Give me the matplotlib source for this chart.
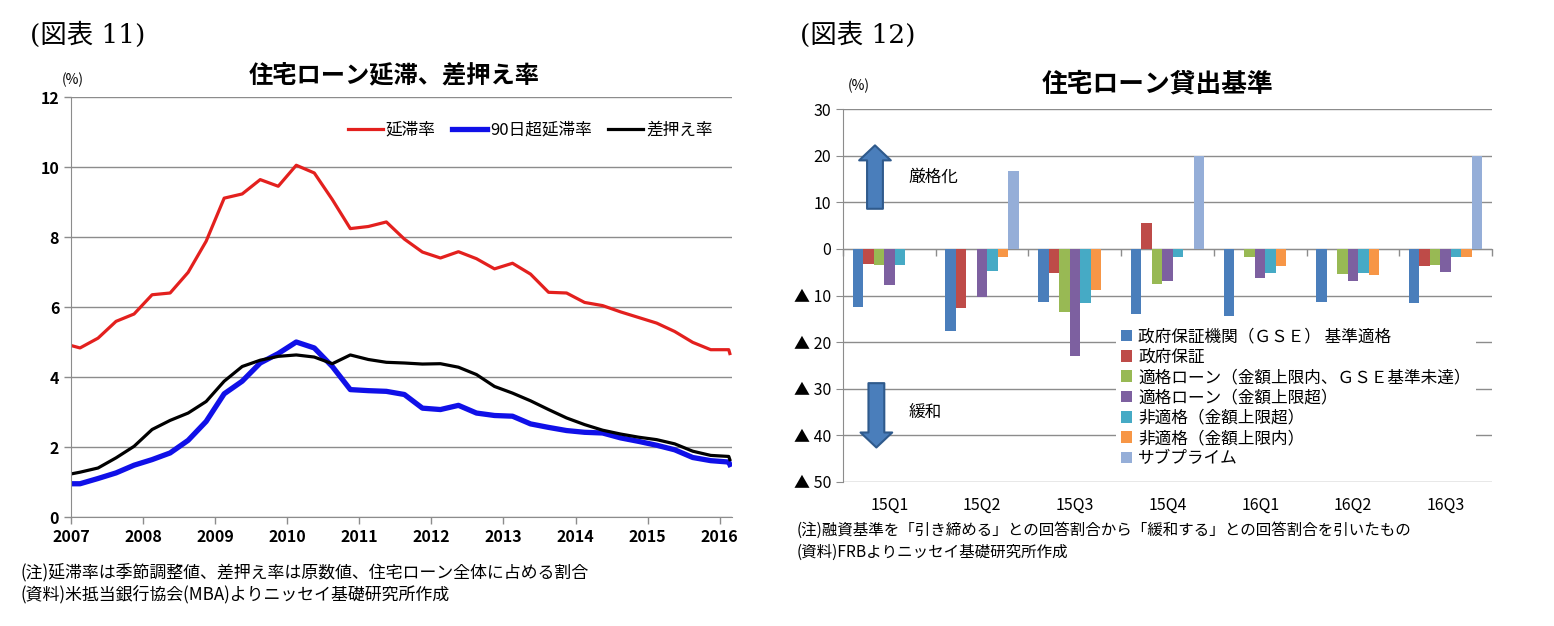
import numpy as np
import matplotlib
matplotlib.use("Agg")
import matplotlib.pyplot as plt
from matplotlib.patches import FancyArrowPatch

plt.rcParams['font.family'] = ['Noto Sans CJK JP', 'DejaVu Sans']

# ---- left chart data (quarterly, %)
years = np.r_[2007.0, np.arange(2007.125, 2016.2, 0.25), 2016.14]
delinq = [4.90, 4.83, 5.11, 5.59, 5.80, 6.35, 6.40, 6.99, 7.88, 9.11, 9.23, 9.64, 9.45,
          10.05, 9.83, 9.07, 8.24, 8.30, 8.43, 7.94, 7.57, 7.40, 7.58, 7.38, 7.09, 7.25,
          6.94, 6.42, 6.40, 6.13, 6.04, 5.86, 5.70, 5.54, 5.30, 4.99, 4.78, 4.78, 4.67]
delinq90 = [0.95, 0.95, 1.10, 1.26, 1.48, 1.64, 1.83, 2.19, 2.73, 3.52, 3.88, 4.40, 4.67,
            5.00, 4.83, 4.30, 3.64, 3.61, 3.59, 3.50, 3.11, 3.07, 3.19, 2.97, 2.90, 2.88,
            2.66, 2.56, 2.47, 2.42, 2.40, 2.26, 2.16, 2.05, 1.92, 1.70, 1.61, 1.57, 1.50]
foreclose = [1.23, 1.28, 1.40, 1.69, 2.02, 2.50, 2.76, 2.97, 3.30, 3.88, 4.30, 4.48, 4.59,
             4.63, 4.57, 4.38, 4.63, 4.50, 4.42, 4.40, 4.37, 4.38, 4.28, 4.07, 3.73, 3.54,
             3.32, 3.07, 2.83, 2.64, 2.48, 2.37, 2.28, 2.21, 2.09, 1.88, 1.76, 1.73, 1.64]
line_labels = ['延滞率', '90日超延滞率', '差押え率']

# ---- right chart data (%, tightening minus easing)
quarters = ['15Q1', '15Q2', '15Q3', '15Q4', '16Q1', '16Q2', '16Q3']
series_names = ['政府保証機関（ＧＳＥ） 基準適格', '政府保証',
                '適格ローン（金額上限内、ＧＳＥ基準未達）', '適格ローン（金額上限超）',
                '非適格（金額上限超）', '非適格（金額上限内）', 'サブプライム']
gse = [-12.5, -17.6, -11.3, -13.9, -14.3, -11.4, -11.6]
gov = [-3.3, -12.7, -5.1, 5.5, 0, 0, -3.6]
conf_in = [-3.5, 0, -13.6, -7.5, -1.8, -5.4, -3.5]
conf_jumbo = [-7.8, -10.4, -23.0, -6.9, -6.3, -6.8, -4.9]
nonconf_jumbo = [-3.5, -4.8, -11.7, -1.8, -5.2, -5.2, -1.8]
nonconf_in = [0, -1.8, -8.9, 0, -3.6, -5.5, -1.8]
subprime = [0, 16.6, 0, 20.0, 0, 0, 20.0]
bar_colors = ['#4A7EBB', '#BE4B48', '#98B954', '#7D60A0', '#46AAC5', '#F79646', '#95AED8']

W, H = 1554, 626
fig = plt.figure(figsize=(W / 100, H / 100), dpi=100)


def fx(x):
    return x / W


def fy(y):
    return 1 - y / H


grid_c = '#8C8C8C'
serif = ['DejaVu Serif', 'Noto Sans CJK JP']

# ================= left chart
ax1 = fig.add_axes([fx(71), fy(517), fx(732) - fx(71), fy(97) - fy(517)])
ax1.plot(years, delinq, color='#E3201E', lw=2.3, label=line_labels[0])
ax1.plot(years, delinq90, color='#1010E8', lw=3.8, label=line_labels[1])
ax1.plot(years, foreclose, color='black', lw=2.3, label=line_labels[2])
ax1.set_xlim(2007, 2016.17)
ax1.set_ylim(0, 12)
ax1.set_xticks(range(2007, 2017))
ax1.set_yticks(range(0, 13, 2))
ax1.grid(axis='y', color=grid_c, lw=1)
ax1.set_axisbelow(True)
for s in ['top', 'right']:
    ax1.spines[s].set_visible(False)
for s in ['left', 'bottom']:
    ax1.spines[s].set_color(grid_c)
ax1.tick_params(colors=grid_c, length=5, width=1, labelcolor='black', labelsize=11.5)
for lab in ax1.get_xticklabels() + ax1.get_yticklabels():
    lab.set_fontweight('bold')
ax1.legend(loc='center', bbox_to_anchor=(0.695, 0.921), ncol=3, frameon=False,
           fontsize=12, handlelength=2.1, handletextpad=0.15, columnspacing=1.0)

fig.text(fx(30), fy(35), '(図表 11)', fontsize=19, va='center', ha='left', family=serif)
fig.text(fx(394), fy(76), '住宅ローン延滞、差押え率', fontsize=17.5, fontweight='bold',
         va='center', ha='center')
fig.text(fx(62), fy(80), '(%)', fontsize=10, va='center', ha='left')
fig.text(fx(20), fy(572), '(注)延滞率は季節調整値、差押え率は原数値、住宅ローン全体に占める割合',
         fontsize=12.2, va='center', ha='left')
fig.text(fx(20), fy(594), '(資料)米抵当銀行協会(MBA)よりニッセイ基礎研究所作成',
         fontsize=12.2, va='center', ha='left')

# ================= right chart
ax2 = fig.add_axes([fx(843), fy(482), fx(1492) - fx(843), fy(109) - fy(482)])
series = [gse, gov, conf_in, conf_jumbo, nonconf_jumbo, nonconf_in, subprime]
x = np.arange(len(quarters))
bw = 0.113
for i, (vals, name, c) in enumerate(zip(series, series_names, bar_colors)):
    ax2.bar(x + (i - 3) * bw, vals, width=bw, color=c, label=name, lw=0)
ax2.set_xlim(-0.5, len(quarters) - 0.5)
ax2.set_ylim(-50, 30)
yt = list(range(-50, 31, 10))
ax2.set_yticks(yt)
ax2.set_yticklabels([f'▲ {abs(v)}' if v < 0 else str(v) for v in yt])
ax2.set_xticks(x)
ax2.set_xticklabels(quarters)
ax2.grid(axis='y', color=grid_c, lw=1)
ax2.set_axisbelow(True)
for s in ['top', 'right', 'bottom']:
    ax2.spines[s].set_visible(False)
ax2.spines['left'].set_color(grid_c)
ax2.tick_params(axis='y', colors=grid_c, length=5, labelcolor='black', labelsize=11.5)
ax2.tick_params(axis='x', length=0, pad=11, labelsize=11.5)
# zero axis with category boundary ticks
sec = ax2.secondary_xaxis(0, transform=ax2.transData)
sec.set_xticks(np.arange(-0.5, len(quarters), 1.0))
sec.set_xticklabels([])
sec.tick_params(colors=grid_c, length=5, width=1)
sec.spines['bottom'].set_color(grid_c)

leg = ax2.legend(loc='upper left', bbox_to_anchor=(0.42, 0.425), frameon=True,
                 fancybox=False, edgecolor='none', facecolor='white', framealpha=1,
                 fontsize=12, handlelength=0.7, handleheight=0.7, handletextpad=0.35,
                 labelspacing=0.2, borderpad=0.3, borderaxespad=0)

# arrows
arrow_kw = dict(arrowstyle='simple,head_length=0.9,head_width=1.9,tail_width=0.95',
                mutation_scale=12, facecolor='#4A7EBB', edgecolor='#2F5A8C', lw=1.5,
                shrinkA=0, shrinkB=0)
ax2.add_patch(FancyArrowPatch((-0.155, 8.6), (-0.155, 22.2), **arrow_kw))
ax2.add_patch(FancyArrowPatch((-0.14, -28.8), (-0.14, -42.6), **arrow_kw))
ax2.text(0.48, 15.3, '厳格化', fontsize=12, va='center', ha='center')
ax2.text(0.39, -35.0, '緩和', fontsize=12, va='center', ha='center')

fig.text(fx(800), fy(35), '(図表 12)', fontsize=19, va='center', ha='left', family=serif)
fig.text(fx(1158), fy(84), '住宅ローン貸出基準', fontsize=18.5, fontweight='bold',
         va='center', ha='center')
fig.text(fx(848), fy(86), '(%)', fontsize=10, va='center', ha='left')
fig.text(fx(797), fy(530), '(注)融資基準を「引き締める」との回答割合から「緩和する」との回答割合を引いたもの',
         fontsize=11.2, va='center', ha='left')
fig.text(fx(797), fy(552), '(資料)FRBよりニッセイ基礎研究所作成',
         fontsize=11.2, va='center', ha='left')

fig.savefig('out.png', dpi=100, facecolor='white')
